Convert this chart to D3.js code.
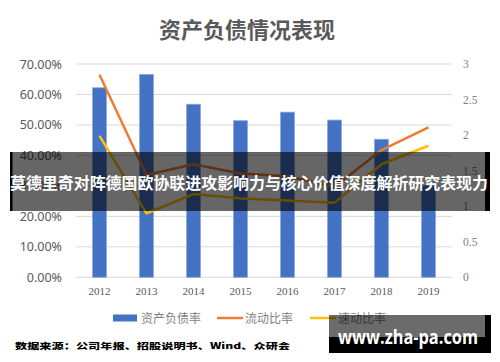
<!DOCTYPE html>
<html>
<head>
<meta charset="utf-8">
<script src="https://cdn.jsdelivr.net/npm/d3@7"></script>
<style>
  body { margin: 0; background: #fff; }
  svg { display: block; font-family: "Noto Sans CJK SC", "Noto Sans", sans-serif; }
</style>
</head>
<body>
<svg id="chart" width="500" height="362"></svg>
<script>
const years = ['2012', '2013', '2014', '2015', '2016', '2017', '2018', '2019']
const debtRatio = [0.622, 0.666, 0.568, 0.514, 0.542, 0.516, 0.453, 0.30]
const currentRatio = [2.85, 1.44, 1.59, 1.46, 1.42, 1.27, 1.79, 2.11]
const quickRatio = [1.99, 0.90, 1.17, 1.11, 1.08, 1.05, 1.59, 1.85]
const leftTicks = [0, 0.1, 0.2, 0.3, 0.4, 0.5, 0.6, 0.7]
const rightTicks = [0, 0.5, 1, 1.5, 2, 2.5, 3]
const legendNames = ['资产负债率', '流动比率', '速动比率']

const svg = d3.select('#chart')
const plotLeft = 76, plotRight = 452, plotTop = 64, plotBottom = 277.3

let xScale = d3.scaleBand().domain(years).range([plotLeft, plotRight])
let yLeft = d3.scaleLinear().domain([0, 0.7]).range([plotBottom, plotTop])
let yRight = d3.scaleLinear().domain([0, 3]).range([plotBottom, plotTop])

// title
svg.append('text')
  .attr('x', 247).attr('y', 38)
  .attr('text-anchor', 'middle')
  .style('font-size', '22px').style('font-weight', 'bold')
  .style('fill', '#595959')
  .text('资产负债情况表现')

// gridlines
svg.append('g').selectAll('line').data(leftTicks).enter()
  .append('line')
  .attr('x1', plotLeft).attr('x2', plotRight)
  .attr('y1', d => yLeft(d)).attr('y2', d => yLeft(d))
  .style('stroke', '#d9d9d9').style('stroke-width', 1)

// left axis
let leftAxis = d3.axisLeft(yLeft).tickValues(leftTicks).tickSize(0).tickPadding(14)
  .tickFormat(d3.format('.2%'))
let gl = svg.append('g').attr('transform', `translate(${plotLeft}, 0)`).call(leftAxis)
gl.select('.domain').remove()
gl.selectAll('text').style('font-size', '12.5px').style('fill', '#595959')
  .style('font-family', '"Noto Sans", sans-serif')

// right axis
let rightAxis = d3.axisRight(yRight).tickValues(rightTicks).tickSize(0).tickPadding(11)
  .tickFormat(d => d)
let gr = svg.append('g').attr('transform', `translate(${plotRight}, 0)`).call(rightAxis)
gr.select('.domain').remove()
gr.selectAll('text').style('font-size', '11.5px').style('fill', '#808080')
  .style('font-family', '"Liberation Serif", serif')

// bottom axis labels
let xAxis = d3.axisBottom(xScale).tickSize(0).tickPadding(10)
let gx = svg.append('g').attr('transform', `translate(0, ${plotBottom})`).call(xAxis)
gx.select('.domain').remove()
gx.selectAll('text').style('font-size', '11px').style('fill', '#595959')
  .style('font-family', '"Liberation Serif", serif')

// bars
const barW = 14
svg.append('g').selectAll('rect').data(debtRatio).enter()
  .append('rect')
  .attr('x', (d, i) => xScale(years[i]) + xScale.bandwidth() / 2 - barW / 2)
  .attr('y', d => yLeft(d))
  .attr('width', barW)
  .attr('height', d => plotBottom - yLeft(d))
  .style('fill', '#4472c4')
  .style('stroke', '#8eaadb').style('stroke-width', 0.8)

// lines
let lineGen = d3.line()
  .x((d, i) => xScale(years[i]) + xScale.bandwidth() / 2)
  .y(d => yRight(d))

svg.append('path').datum(currentRatio)
  .attr('d', lineGen)
  .style('fill', 'none').style('stroke', '#ed7d31').style('stroke-width', 2.5)
  .style('stroke-linejoin', 'round')

svg.append('path').datum(quickRatio)
  .attr('d', lineGen)
  .style('fill', 'none').style('stroke', '#ffc000').style('stroke-width', 2.5)
  .style('stroke-linejoin', 'round')

// legend
let legend = svg.append('g').attr('transform', 'translate(0, 318)')
legend.append('rect').attr('x', 113).attr('y', -3.5).attr('width', 24).attr('height', 7)
  .style('fill', '#4472c4')
legend.append('line').attr('x1', 217).attr('x2', 243).attr('y1', 0).attr('y2', 0)
  .style('stroke', '#ed7d31').style('stroke-width', 2.5)
legend.append('line').attr('x1', 310).attr('x2', 336).attr('y1', 0).attr('y2', 0)
  .style('stroke', '#ffc000').style('stroke-width', 2.5)
legend.selectAll('text').data(legendNames).enter()
  .append('text')
  .attr('x', (d, i) => [141, 245, 338][i])
  .attr('y', 4.5)
  .style('font-size', '12px').style('fill', '#7f7f7f')
  .text(d => d)

// overlay banner
svg.append('rect').attr('x', 10).attr('y', 152).attr('width', 475).attr('height', 59)
  .style('fill', 'rgba(0,0,0,0.6)')
svg.append('rect').attr('x', 10).attr('y', 152).attr('width', 2.5).attr('height', 59)
  .style('fill', '#000')
svg.append('rect').attr('x', 485).attr('y', 152).attr('width', 5).attr('height', 59)
  .style('fill', '#000')
svg.append('text')
  .attr('x', 249).attr('y', 189)
  .attr('text-anchor', 'middle')
  .attr('textLength', 478).attr('lengthAdjust', 'spacingAndGlyphs')
  .style('font-size', '16px').style('font-weight', 'bold').style('fill', '#fff')
  .text('莫德里奇对阵德国欧协联进攻影响力与核心价值深度解析研究表现力')

// watermark box
svg.append('rect').attr('x', 329).attr('y', 315).attr('width', 156).attr('height', 22)
  .style('fill', 'rgba(0,0,0,0.58)')
svg.append('rect').attr('x', 485).attr('y', 315).attr('width', 6).attr('height', 38)
  .style('fill', '#000')
svg.append('rect').attr('x', 329).attr('y', 337).attr('width', 156).attr('height', 16)
  .style('fill', '#000')
svg.append('text')
  .attr('x', 338).attr('y', 344)
  .attr('textLength', 140).attr('lengthAdjust', 'spacingAndGlyphs')
  .style('font-size', '20px').style('font-weight', 'bold').style('fill', '#fff')
  .style('font-family', '"Open Sans", "DejaVu Sans", sans-serif')
  .text('www.zha-pa.com')

// source note
svg.append('text')
  .attr('transform', 'translate(15, 349) scale(1, 0.7)')
  .attr('textLength', 275).attr('lengthAdjust', 'spacingAndGlyphs')
  .style('font-size', '12px').style('font-weight', '900').style('fill', '#000')
  .text('数据来源：公司年报、招股说明书、Wind、众研会')
</script>
</body>
</html>
